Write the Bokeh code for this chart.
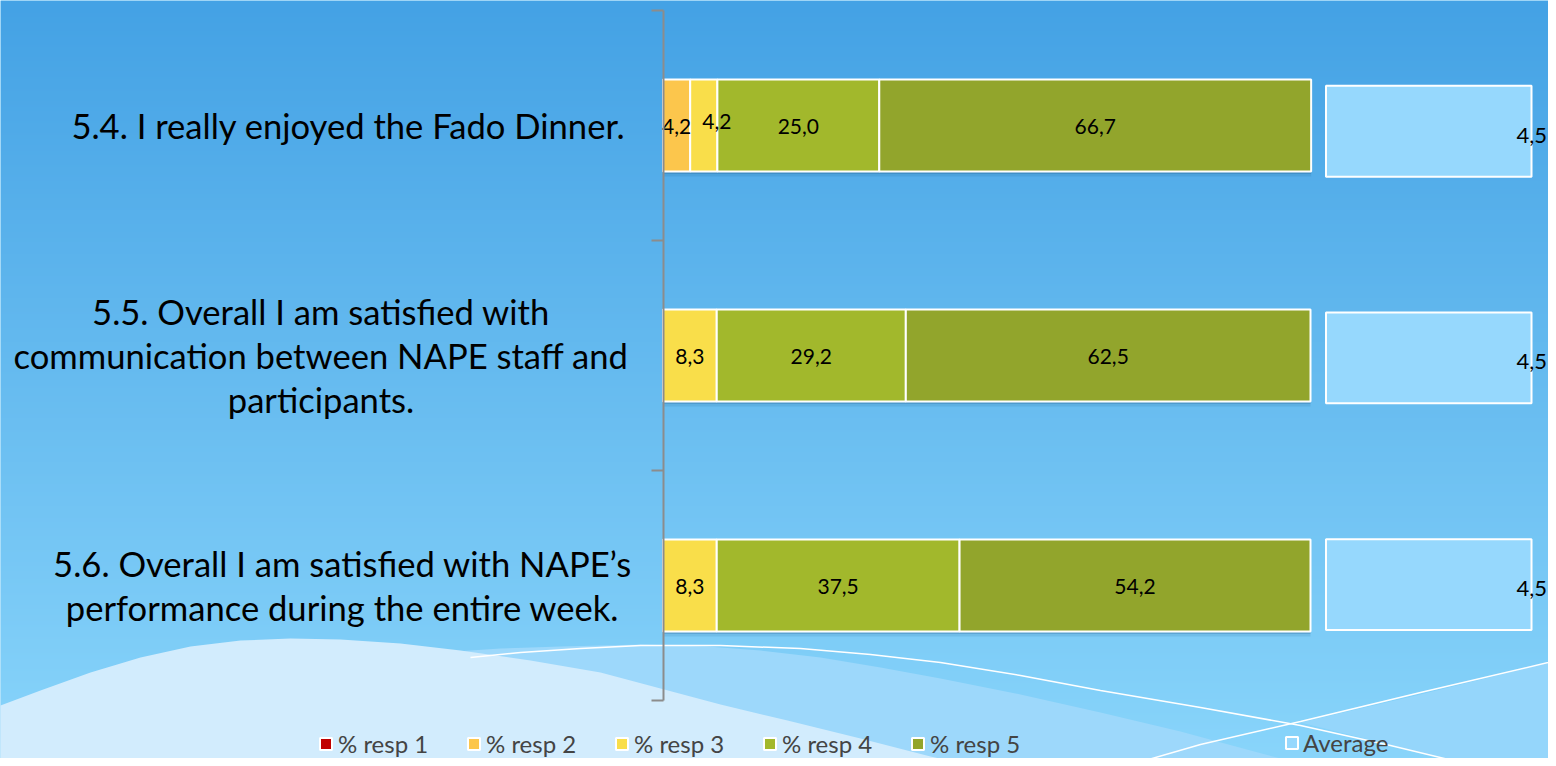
import numpy as np
from bokeh.plotting import figure
from bokeh.models import (ColumnDataSource, Range1d, LinearAxis, FixedTicker,
                          Legend, LegendItem)
from bokeh.core.properties import value
from bokeh.embed import file_html
from bokeh.resources import INLINE

# ---------------- data ----------------
categories = [
    "5.4. I really enjoyed the Fado Dinner.",
    "5.5. Overall I am satisfied with\ncommunication between NAPE staff and\nparticipants.",
    "5.6. Overall I am satisfied with NAPE\u2019s\nperformance during the entire week.",
]
series_names = ["% resp 1", "% resp 2", "% resp 3", "% resp 4", "% resp 5"]
resp1 = [0.0, 0.0, 0.0]
resp2 = [4.2, 0.0, 0.0]
resp3 = [4.2, 8.3, 8.3]
resp4 = [25.0, 29.2, 37.5]
resp5 = [66.7, 62.5, 54.2]
average = [4.5, 4.5, 4.5]
average_name = "Average"

# ---------------- style ----------------
colors = ["#c00000", "#fcc64c", "#f9de4a", "#a2b82c", "#92a52c"]
avg_color = "#96d8fd"
FONT = "Lato"

# ---------------- layout ----------------
W, H, M = 1548, 758, 0
n = len(categories)
s_main = 6.475            # px per percent
zero_px = 662.5
X0 = -(zero_px - M) / s_main
X1 = X0 + W / s_main
s_y = 230.0               # px per category band
Y1 = n + (10 - M) / s_y
Y0 = Y1 - H / s_y
s_avg = 45.67
avg_zero_px = 1325.5
AX0 = -(avg_zero_px - M) / s_avg
AX1 = AX0 + W / s_avg
s_ay = 226.7
AY1 = n + (17.35 - M) / s_ay
AY0 = AY1 - H / s_ay


def px2x(px):
    return X0 + (px - M) / s_main


def py2y(py):
    return Y1 - (py - M) / s_y


p = figure(width=W, height=H, output_backend="svg", toolbar_location=None,
           x_axis_type=None, y_axis_type=None, min_border=0,
           x_range=Range1d(X0, X1), y_range=Range1d(Y0, Y1))
p.outline_line_color = None
p.background_fill_color = "#7fcffa"
p.border_fill_color = "#7fcffa"
p.extra_x_ranges = {"avg": Range1d(AX0, AX1)}
p.extra_y_ranges = {"avg": Range1d(AY0, AY1)}

# ---------------- background gradient ----------------
rows = 380
t = np.linspace(0, 1, rows)[:, None]          # 0 bottom .. 1 top
top = np.array([68, 162, 229])
bot = np.array([137, 213, 251])
rgb = (bot + (top - bot) * t).astype(np.uint32)
img = np.empty((rows, 2), dtype=np.uint32)
view = img.view(dtype=np.uint8).reshape((rows, 2, 4))
view[:, :, 0] = rgb[:, 0:1]
view[:, :, 1] = rgb[:, 1:2]
view[:, :, 2] = rgb[:, 2:3]
view[:, :, 3] = 255
p.image_rgba(image=[img], x=X0, y=Y0, dw=X1 - X0, dh=Y1 - Y0)

# decorative waves (page pixel coordinates)
medium = [(440, 652), (500, 648), (560, 646), (640, 644), (707, 646), (760, 650),
          (820, 657), (880, 667), (940, 678), (1020, 694), (1100, 712), (1180, 731),
          (1250, 750), (1310, 766), (1600, 766), (1600, 800), (440, 800)]
right_light = [(1300, 722), (1420, 694), (1556, 660), (1600, 650), (1600, 800), (1477, 766)]
light = [(-20, 712), (0, 705), (40, 690), (90, 672), (140, 657), (190, 646), (240, 640),
         (290, 638), (340, 639), (400, 643), (460, 650), (530, 660), (600, 672),
         (660, 688), (720, 704), (787, 720), (860, 738), (930, 756), (975, 766),
         (975, 800), (-20, 800)]
line_a = [(470, 657), (520, 652), (580, 648), (640, 645), (720, 645), (800, 648),
          (870, 654), (940, 662), (1020, 675), (1100, 690), (1200, 707), (1300, 725),
          (1390, 745), (1477, 766), (1500, 772)]
line_b = [(1110, 770), (1200, 744), (1300, 721), (1420, 692), (1556, 660), (1580, 654)]

for pts, col in [(medium, "#9dd8fb"), (right_light, "#95d6fb"), (light, "#d2ecfd")]:
    p.patch([px2x(a) for a, b in pts], [py2y(b) for a, b in pts],
            fill_color=col, line_color=None)
for pts in (line_a, line_b):
    p.line([px2x(a) for a, b in pts], [py2y(b) for a, b in pts],
           line_color="white", line_width=1.5)

# ---------------- bars ----------------
ypos = [n - 0.5 - i for i in range(n)]
series = [resp1, resp2, resp3, resp4, resp5]
totals = np.sum(np.array(series), axis=0)
bar_h = 0.4

# soft shadow under bars
for off, alpha in [(5.0, 0.12), (2.5, 0.22)]:
    p.hbar(y=[y - off / s_y for y in ypos], left=0, right=totals, height=bar_h,
           fill_color="#1b4f80", fill_alpha=alpha, line_color=None)

data = {"y": ypos}
for name, vals in zip(series_names, series):
    data[name] = vals
src = ColumnDataSource(data)
bar_renderers = p.hbar_stack(series_names, y="y", height=bar_h, color=colors,
                             line_color="white", line_width=2, source=src)

# data labels inside segments
lx, ly, lt, xo, yo = [], [], [], [], []
left = np.zeros(n)
for k, vals in enumerate(series):
    v = np.array(vals)
    for i in range(n):
        if v[i] > 0:
            lx.append(left[i] + v[i] / 2)
            ly.append(ypos[i])
            lt.append(f"{v[i]:.1f}".replace(".", ","))
            # small label right after another small one is nudged (as in the original)
            if k > 0 and series[k - 1][i] > 0 and v[i] < 6 and series[k - 1][i] < 6:
                xo.append(13)
                yo.append(-4)
            else:
                xo.append(0)
                yo.append(1)
    left += v
p.text(x=lx, y=ly, text=lt, x_offset=xo, y_offset=yo, text_font=value(FONT),
       text_font_size="21px", text_align="center", text_baseline="middle",
       text_color="black")

# ---------------- average boxes ----------------
avg_r = p.hbar(y=ypos, left=0, right=average, height=0.401, fill_color=avg_color,
               line_color="white", line_width=2, x_range_name="avg", y_range_name="avg")
p.text(x=average, y=ypos, text=[f"{a:.1f}".replace(".", ",") for a in average],
       x_offset=-15, y_offset=4, text_font=value(FONT), text_font_size="22px",
       text_align="left", text_baseline="middle", text_color="black",
       x_range_name="avg", y_range_name="avg")

# ---------------- category labels ----------------
label_cx = [348, 320.5, 342]
p.text(x=[px2x(c) for c in label_cx], y=ypos, text=categories, text_font=value(FONT),
       text_font_size="34.6px", text_align="center", text_baseline="middle",
       text_line_height=1.08, text_color="black")

# ---------------- category axis ----------------
yaxis = LinearAxis(fixed_location=0, ticker=FixedTicker(ticks=list(range(n + 1))),
                   bounds=(0, n), major_tick_out=12, major_tick_in=0,
                   minor_tick_out=0, minor_tick_in=0,
                   axis_line_color="#8c8c8c", axis_line_width=2,
                   major_tick_line_color="#8c8c8c", major_tick_line_width=2,
                   major_label_text_alpha=0)
p.add_layout(yaxis, "left")

# ---------------- legends ----------------
leg = Legend(items=[LegendItem(label=nm, renderers=[r]) for nm, r in zip(series_names, bar_renderers)],
             orientation="horizontal", location=(318, 0), padding=0, margin=0, spacing=0,
             glyph_width=15, glyph_height=15, label_standoff=5, label_width=128,
             label_text_font=FONT, label_text_font_size="24px",
             border_line_color=None, background_fill_alpha=0)
p.add_layout(leg)
leg2 = Legend(items=[LegendItem(label=average_name, renderers=[avg_r])],
              orientation="horizontal", location=(1284, 1), padding=0, margin=0,
              glyph_width=15, glyph_height=15, label_standoff=4,
              label_text_font=FONT, label_text_font_size="24px",
              border_line_color=None, background_fill_alpha=0)
p.add_layout(leg2)

open("out.html", "w").write(file_html(p, INLINE))
